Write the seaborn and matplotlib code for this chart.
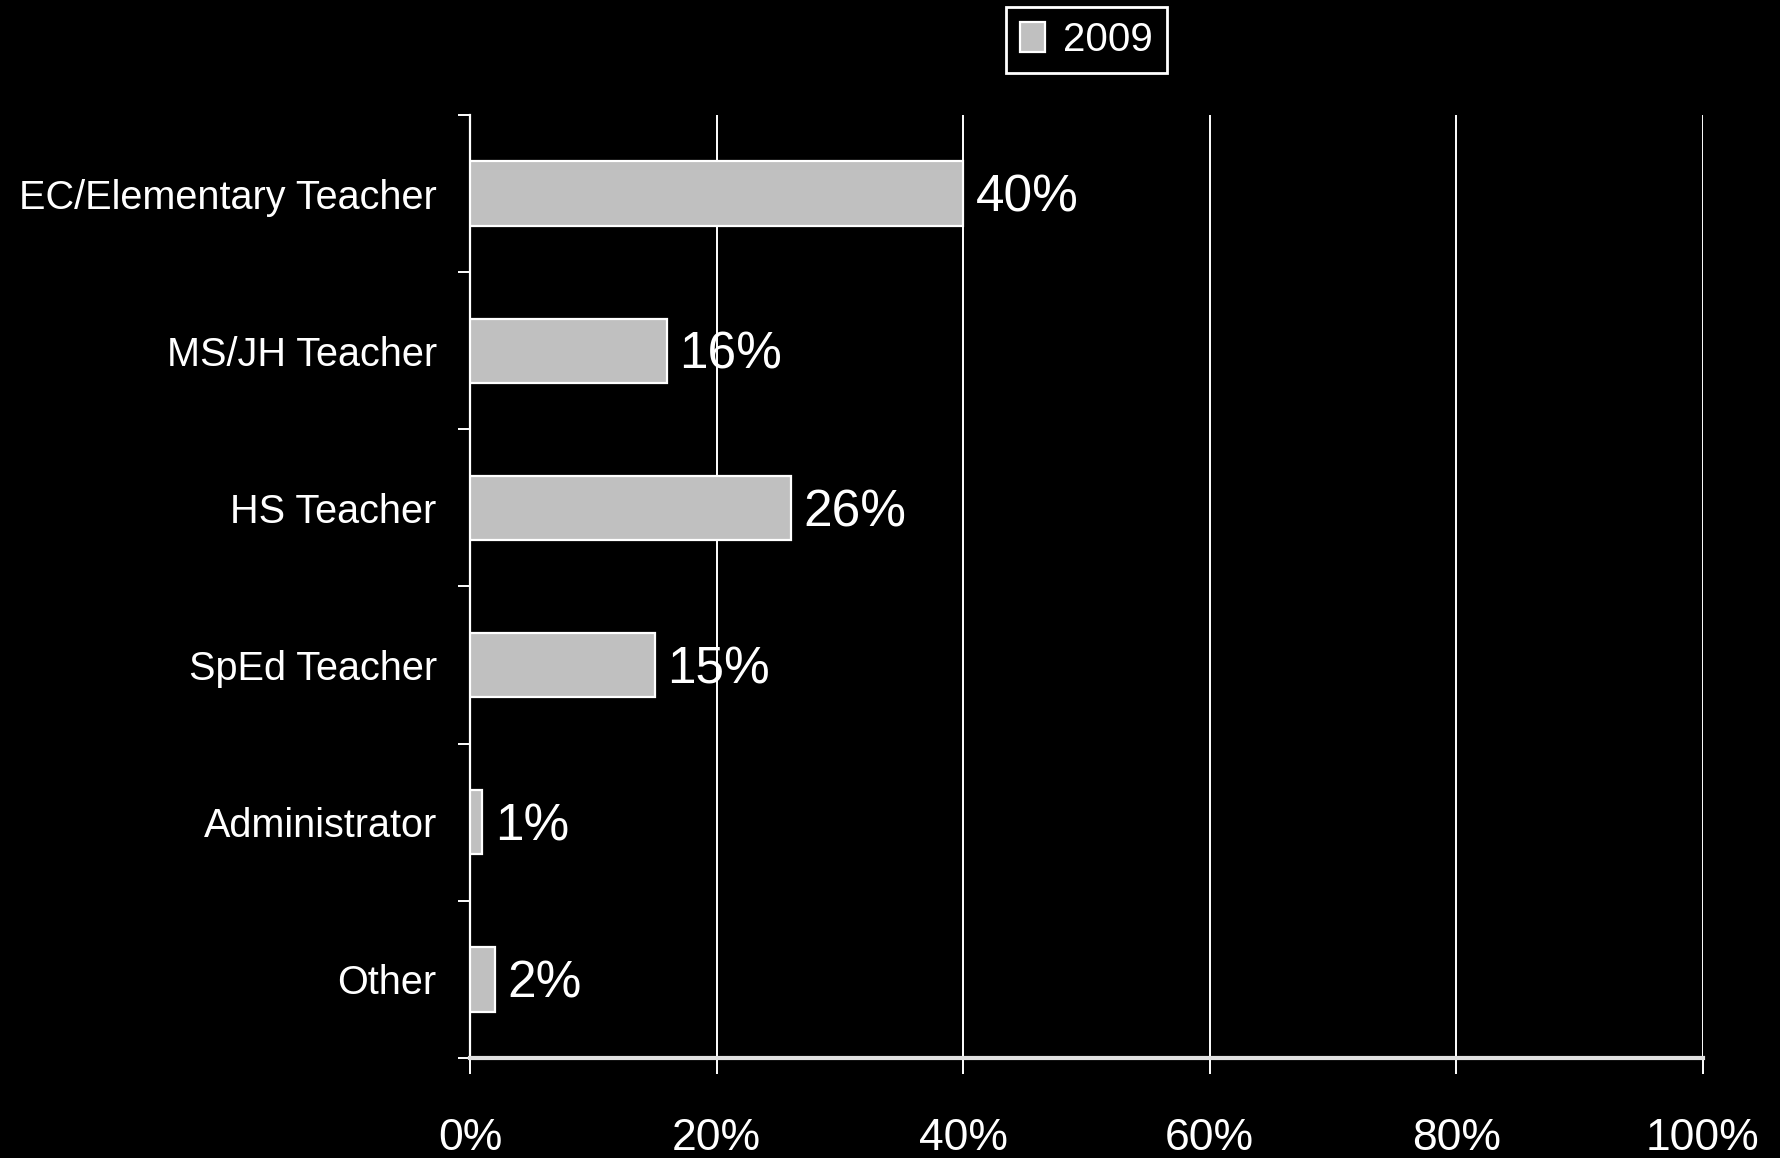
import matplotlib
matplotlib.use("Agg")
import matplotlib.pyplot as plt
from matplotlib.ticker import FixedLocator, PercentFormatter
import seaborn as sns
import pandas as pd

# Respondent roles and their share of responses (2009)
roles = ["EC/Elementary Teacher", "MS/JH Teacher", "HS Teacher",
         "SpEd Teacher", "Administrator", "Other"]
share_2009 = [40, 16, 26, 15, 1, 2]
x_ticks = [0, 20, 40, 60, 80, 100]
series_name = "2009"

df = pd.DataFrame({"role": roles, "share": share_2009, "year": series_name})

sns.set_theme(style="dark")
FONT = ["Liberation Sans Narrow", "Liberation Sans", "DejaVu Sans"]
plt.rcParams["font.family"] = FONT

fig = plt.figure(figsize=(17.81, 11.58), dpi=100, facecolor="black")
ax = fig.add_axes([0.2639, 0.0864, 0.6923, 0.8143])
ax.set_facecolor("black")

sns.barplot(data=df, x="share", y="role", hue="year", orient="h",
            palette=["#C0C0C0"], edgecolor="white", linewidth=1.6,
            width=0.41, ax=ax, zorder=3)

ax.set_xlim(0, 100)
ax.set_ylim(5.5, -0.5)
ax.set_xlabel("")
ax.set_ylabel("")

# vertical gridlines
ax.set_xticks(x_ticks)
ax.xaxis.set_major_formatter(PercentFormatter(decimals=0))
ax.grid(axis="x", color="white", linewidth=1.4, zorder=0)
ax.grid(axis="y", visible=False)

# spines
for s in ["top", "right"]:
    ax.spines[s].set_visible(False)
ax.spines["left"].set_color("white")
ax.spines["left"].set_linewidth(1.6)
ax.spines["bottom"].set_color("#E0E0E0")
ax.spines["bottom"].set_linewidth(3)
ax.spines["bottom"].set_zorder(4)

# tick styling
ax.tick_params(axis="x", colors="white", direction="out", length=11.5,
               width=1.4, labelsize=32, pad=32, bottom=True)
ax.tick_params(axis="y", which="major", length=0, labelsize=28.5, pad=24,
               labelcolor="white", left=True)
ax.yaxis.set_minor_locator(FixedLocator([i - 0.5 for i in range(len(roles) + 1)]))
ax.tick_params(axis="y", which="minor", direction="out", length=9,
               width=1.4, color="white", left=True)

# value labels at the end of each bar
for i, v in enumerate(share_2009):
    ax.text(v + 1.0, i + 0.03, f"{v}%", color="white", fontsize=37,
            va="center", ha="left", zorder=5)

# legend above the plot
handles, labels = ax.get_legend_handles_labels()
ax.legend(handles, labels, loc="upper center", bbox_to_anchor=(0.5, 1.136),
          frameon=True, facecolor="black", edgecolor="white",
          fontsize=29, labelcolor="white", handlelength=0.6,
          handleheight=0.8, handletextpad=0.45, borderpad=0.35,
          fancybox=False, framealpha=1)
ax.get_legend().get_frame().set_linewidth(2)

fig.savefig("out.png", dpi=100, facecolor="black")
